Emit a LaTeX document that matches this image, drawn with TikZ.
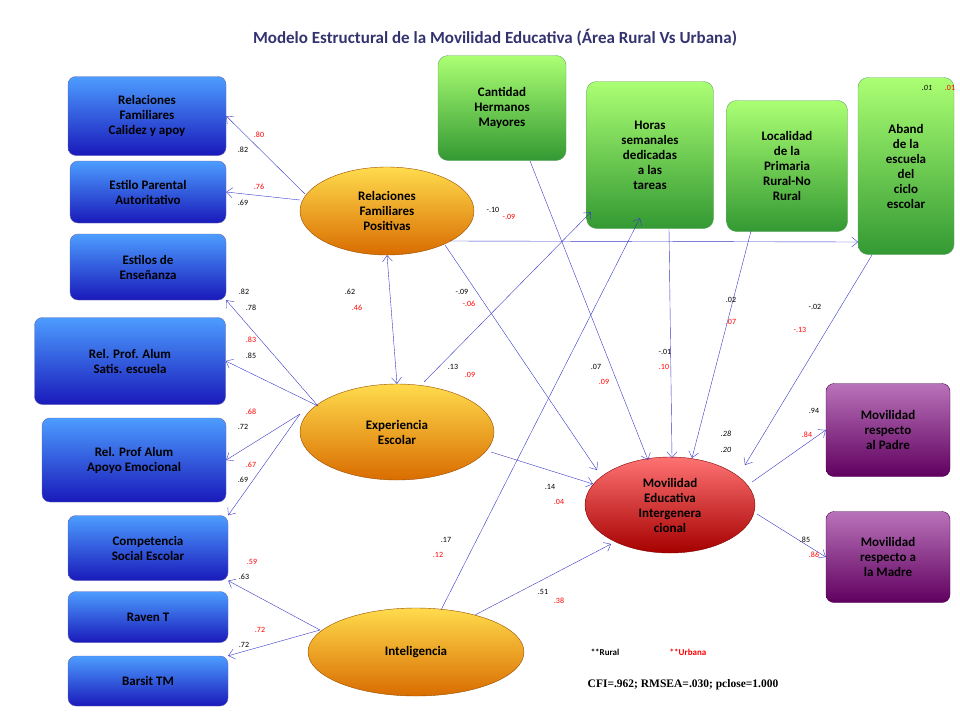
\documentclass[tikz,border=0pt]{standalone}
\usepackage{fontspec}
\setmainfont{Carlito}
\usetikzlibrary{shapes.geometric,arrows.meta}
\begin{document}
\begin{tikzpicture}[x=1pt,y=-1pt,
  bbox/.style={draw=blue!50!black!60,rounded corners=8pt,top color=blue!55!cyan!70!white,bottom color=blue!70!black!90,font=\bfseries\fontsize{13}{15}\selectfont,text=black,align=center,inner sep=2pt},
  gbox/.style={draw=green!40!black!60,rounded corners=10pt,top color=green!60!yellow!55!white,bottom color=green!50!black!80,font=\bfseries\fontsize{13}{15}\selectfont,align=center,inner sep=2pt},
  pbox/.style={draw=violet!60!black,rounded corners=8pt,top color=violet!55!white,bottom color=violet!75!black,font=\bfseries\fontsize{13}{15}\selectfont,align=center,inner sep=2pt},
  oell/.style={ellipse,draw=orange!60!black,top color=orange!40!yellow!70!white,bottom color=orange!85!black,font=\bfseries\fontsize{13}{15}\selectfont,align=center,inner sep=0pt},
  rell/.style={ellipse,draw=red!50!black,top color=red!55!white,bottom color=red!65!black,font=\bfseries\fontsize{13}{15}\selectfont,align=center,inner sep=0pt},
  arr/.style={draw=blue!55!gray,-{Straight Barb[length=6pt,width=10pt]}},
  lb/.style={font=\fontsize{8}{9}\selectfont,inner sep=0pt},
  lr/.style={font=\fontsize{8}{9}\selectfont,text=red,inner sep=0pt}]
\useasboundingbox (0,0) rectangle (960,720);
\node[font=\bfseries\fontsize{17}{20}\selectfont,text=blue!30!black!80] (title) at (495,38) {Modelo Estructural de la Movilidad Educativa (Área Rural Vs Urbana)};
% blue boxes
\node[bbox,minimum width=158pt,minimum height=79pt] (B1) at (147,116) {Relaciones\\Familiares\\Calidez y apoy};
\node[bbox,minimum width=156pt,minimum height=62pt] (B2) at (148,192) {Estilo Parental\\Autoritativo};
\node[bbox,minimum width=156pt,minimum height=66pt] (B3) at (148,267) {Estilos de\\Enseñanza};
\node[bbox,minimum width=191pt,minimum height=87pt] (B4) at (130,361) {Rel. Prof. Alum\\Satis. escuela};
\node[bbox,minimum width=184pt,minimum height=84pt] (B5) at (134,460) {Rel. Prof Alum\\Apoyo Emocional};
\node[bbox,minimum width=160pt,minimum height=65pt] (B6) at (148,548) {Competencia\\Social Escolar};
\node[bbox,minimum width=160pt,minimum height=51pt] (B7) at (148,617) {Raven T};
\node[bbox,minimum width=160pt,minimum height=50pt] (B8) at (148,681) {Barsit TM};
% green boxes
\node[gbox,minimum width=128pt,minimum height=105pt] (G1) at (502,108) {Cantidad\\Hermanos\\Mayores};
\node[gbox,minimum width=127pt,minimum height=147pt] (G2) at (650,155) {Horas\\semanales\\dedicadas\\a las\\tareas};
\node[gbox,minimum width=121pt,minimum height=131pt] (G3) at (787,166) {Localidad\\de la\\Primaria\\Rural-No\\Rural};
\node[gbox,minimum width=96pt,minimum height=177pt] (G4) at (906,166) {Aband\\de la\\escuela\\del\\ciclo\\escolar};
% purple
\node[pbox,minimum width=124pt,minimum height=93pt] (P1) at (888,430) {Movilidad\\respecto\\al Padre};
\node[pbox,minimum width=124pt,minimum height=91pt] (P2) at (888,557) {Movilidad\\respecto a\\la Madre};
% ellipses
\node[oell,minimum width=174pt,minimum height=88pt] (E1) at (387,211) {Relaciones\\Familiares\\Positivas};
\node[oell,minimum width=194pt,minimum height=96pt] (E2) at (397,432) {Experiencia\\Escolar};
\node[oell,minimum width=216pt,minimum height=88pt] (E3) at (416,652) {Inteligencia};
\node[rell,minimum width=170pt,minimum height=96pt] (E4) at (670,505) {Movilidad\\Educativa\\Intergenera\\cional};
% arrows
\coordinate (e1w) at (305,194); \coordinate (e1w2) at (300,200);
\draw[arr] (e1w) -- (B1.east);
\draw[arr] (e1w2) -- (B2.east);
\draw[draw=blue!55!gray,{Straight Barb[length=6pt,width=10pt]}-{Straight Barb[length=6pt,width=10pt]}] (E1.south) -- (E2.north);
\coordinate (e1e) at (450,241); \coordinate (g4w) at (858,242);
\draw[arr] (e1e) -- (g4w);
\coordinate (e1se) at (445,245); \coordinate (e4a) at (597,470);
\draw[arr] (e1se) -- (e4a);
\coordinate (e2w) at (318,406); \coordinate (e2w2) at (300,414);
\draw[arr] (e2w) -- (B3.south east);
\draw[arr] (e2w) -- (B4.east);
\draw[arr] (e2w2) -- (B5.east);
\draw[arr] (e2w2) -- (B6.north east);
\coordinate (e2n) at (424,382); \coordinate (g2w) at (591,212);
\draw[arr] (e2n) -- (g2w);
\coordinate (e2e) at (491,452); \coordinate (e4w) at (593,484);
\draw[arr] (e2e) -- (e4w);
\coordinate (e3w) at (320,630);
\draw[arr] (e3w) -- (B6.south east);
\draw[arr] (e3w) -- (B8.north east);
\coordinate (e3n) at (441,610); \coordinate (g2b) at (640,218);
\draw[arr] (e3n) -- (g2b);
\coordinate (e3e) at (475,615); \coordinate (e4sw) at (611,544);
\draw[arr] (e3e) -- (e4sw);
\coordinate (g1b) at (530,161); \coordinate (e4n1) at (648,460);
\draw[arr] (g1b) -- (e4n1);
\coordinate (g2s) at (669,229); \coordinate (e4n2) at (672,458);
\draw[arr] (g2s) -- (e4n2);
\coordinate (g3s) at (751,231); \coordinate (e4n3) at (692,458);
\draw[arr] (g3s) -- (e4n3);
\coordinate (g4s) at (872,255); \coordinate (e4ne) at (745,465);
\draw[arr] (g4s) -- (e4ne);
\coordinate (e4e1) at (752,482); \coordinate (e4e2) at (757,514);
\draw[arr] (e4e1) -- (P1.west);
\draw[arr] (e4e2) -- (P2.west);
% labels
\node[lr] (l1) at (259,135) {.80}; \node[lb] (l2) at (243,150) {.82};
\node[lr] (l3) at (259,187) {.76}; \node[lb] (l4) at (243,203) {.69};
\node[lb] (l5) at (244,292) {.82}; \node[lb] (l6) at (251,308) {.78};
\node[lr] (l7) at (251,340) {.83}; \node[lb] (l8) at (251,356) {.85};
\node[lr] (l9) at (251,412) {.68}; \node[lb] (l10) at (243,427) {.72};
\node[lr] (l11) at (251,465) {.67}; \node[lb] (l12) at (243,480) {.69};
\node[lr] (l13) at (252,562) {.59}; \node[lb] (l14) at (244,577) {.63};
\node[lr] (l15) at (260,630) {.72}; \node[lb] (l16) at (244,645) {.72};
\node[lb] (l17) at (350,292) {.62}; \node[lr] (l18) at (357,308) {.46};
\node[lb] (l19) at (462,292) {-.09}; \node[lr] (l20) at (469,304) {-.06};
\node[lb] (l21) at (493,210) {-.10}; \node[lr] (l22) at (509,217) {-.09};
\node[lb] (l23) at (453,367) {.13}; \node[lr] (l24) at (470,375) {.09};
\node[lb] (l25) at (596,367) {.07}; \node[lr] (l26) at (604,382) {.09};
\node[lb] (l27) at (665,352) {-.01}; \node[lr] (l28) at (664,367) {.10};
\node[lb] (l29) at (731,300) {.02}; \node[lr] (l30) at (731,322) {.07};
\node[lb] (l31) at (815,307) {-.02}; \node[lr] (l32) at (800,330) {-.13};
\node[lb] (l33) at (814,411) {.94}; \node[lr] (l34) at (807,435) {.84};
\node[lb,font=\itshape\fontsize{8}{9}\selectfont] (l35) at (726,434) {.28};
\node[lb,font=\itshape\fontsize{8}{9}\selectfont] (l36) at (726,450) {.20};
\node[lb,font=\itshape\fontsize{8}{9}\selectfont] (l37) at (927,88) {.01};
\node[lr] (l38) at (950,88) {.01};
\node[lb] (l39) at (550,487) {.14}; \node[lr] (l40) at (559,502) {.04};
\node[lb] (l41) at (446,540) {.17}; \node[lr] (l42) at (438,555) {.12};
\node[lb] (l43) at (543,592) {.51}; \node[lr] (l44) at (559,601) {.38};
\node[lb] (l45) at (805,540) {.85}; \node[lr] (l46) at (814,555) {.86};
\node[font=\bfseries\fontsize{9}{11}\selectfont] (rur) at (605,652) {**Rural};
\node[font=\bfseries\fontsize{9}{11}\selectfont,text=red] (urb) at (688,652) {**Urbana};
\node[font=\fontspec{Liberation Serif}\bfseries\fontsize{11.5}{13}\selectfont] (fit) at (683,685) {CFI=.962; RMSEA=.030; pclose=1.000};
\end{tikzpicture}
\end{document}
